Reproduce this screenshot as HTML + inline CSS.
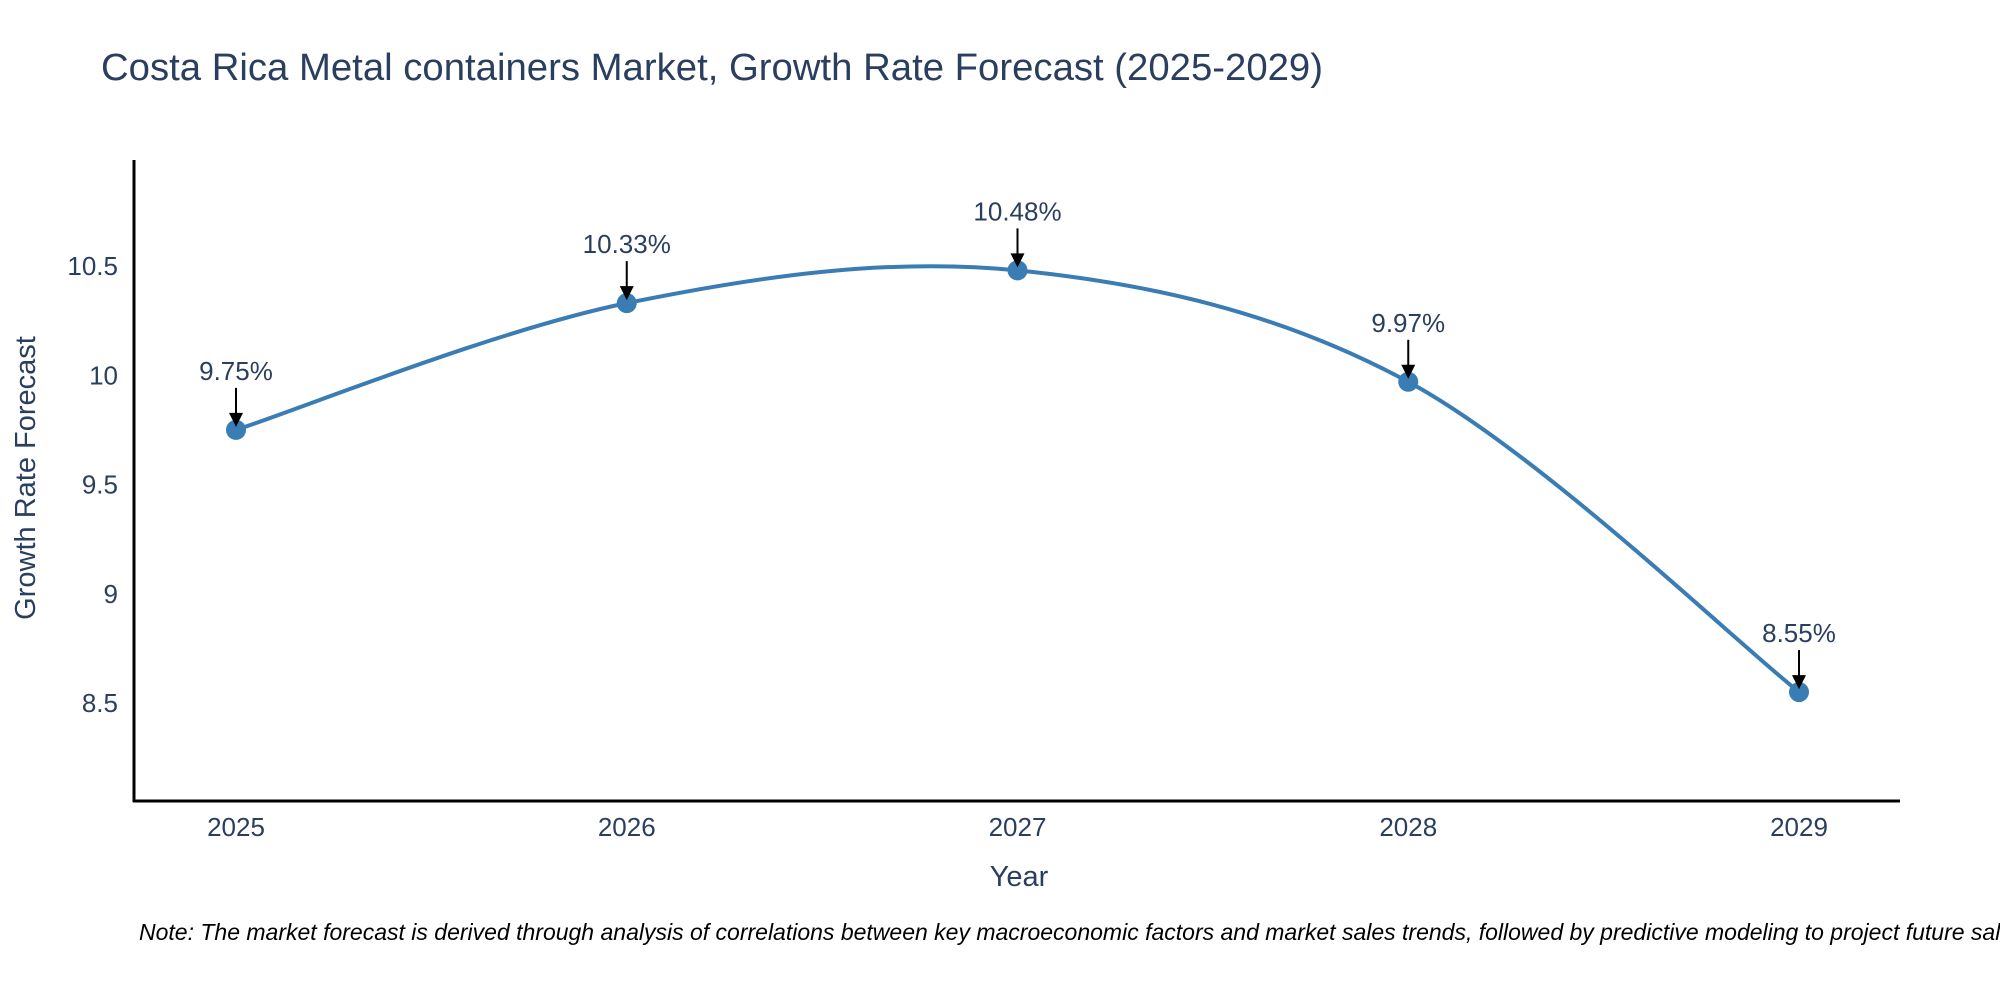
<!DOCTYPE html>
<html><head><meta charset="utf-8"><style>
html,body{margin:0;padding:0;background:#fff}
svg{display:block;font-family:"Liberation Sans",sans-serif}
</style></head><body>
<svg id="chart" width="2000" height="1000" viewBox="0 0 2000 1000" xmlns="http://www.w3.org/2000/svg">
<text x="101" y="80" font-size="38" fill="#2a3f5f" textLength="1222" lengthAdjust="spacingAndGlyphs">Costa Rica Metal containers Market, Growth Rate Forecast (2025-2029)</text>
<g id="grid"></g>
<line x1="134" y1="160" x2="134" y2="802" stroke="#000" stroke-width="3"/>
<line x1="133" y1="801" x2="1900" y2="801" stroke="#000" stroke-width="3"/>
<text transform="translate(35,478) rotate(-90)" text-anchor="middle" font-size="29" fill="#2a3f5f">Growth Rate Forecast</text>
<text x="1019" y="886" text-anchor="middle" font-size="29" fill="#2a3f5f">Year</text>
<text x="139" y="940" font-size="23" font-style="italic" fill="#000">Note: The market forecast is derived through analysis of correlations between key macroeconomic factors and market sales trends, followed by predictive modeling to project future sales.</text>
</svg>
<script>
const years = ["2025","2026","2027","2028","2029"];
const values = [9.75, 10.33, 10.48, 9.97, 8.55];
const labels = ["9.75%","10.33%","10.48%","9.97%","8.55%"];
const yTicks = [8.5, 9, 9.5, 10, 10.5];
const yTickLabels = ["8.5","9","9.5","10","10.5"];

const NS="http://www.w3.org/2000/svg";
const g=document.getElementById('grid');
const x0=236, x1=1799;
function xs(i){return x0+(x1-x0)*i/(years.length-1);}
function ys(v){return 703-(v-8.5)*(703-266)/2;}
function mk(t,a,p){const e=document.createElementNS(NS,t);for(const k in a)e.setAttribute(k,a[k]);(p||g).appendChild(e);return e;}

yTicks.forEach((v,i)=>{
  const t=mk('text',{x:118,y:ys(v)+9,'text-anchor':'end','font-size':26,fill:'#2a3f5f'});
  
  
  t.textContent=yTickLabels[i];
});
years.forEach((y,i)=>{
  const t=mk('text',{x:xs(i),y:836,'text-anchor':'middle','font-size':26,fill:'#2a3f5f'});
  
  
  t.textContent=y;
});

const pts=values.map((v,i)=>[xs(i),ys(v)]);
let d='M'+pts[0][0]+','+pts[0][1];
const s=1/6;
for(let i=0;i<pts.length-1;i++){
  const p0=pts[Math.max(0,i-1)],p1=pts[i],p2=pts[i+1],p3=pts[Math.min(pts.length-1,i+2)];
  const c1=[p1[0]+(p2[0]-p0[0])*s,p1[1]+(p2[1]-p0[1])*s];
  const c2=[p2[0]-(p3[0]-p1[0])*s,p2[1]-(p3[1]-p1[1])*s];
  d+=` C${c1[0]},${c1[1]} ${c2[0]},${c2[1]} ${p2[0]},${p2[1]}`;
}
const line=mk('path',{d:d,fill:'none',stroke:'#3a7db5','stroke-width':4});



pts.forEach((p,i)=>{
  const c=mk('circle',{cx:p[0],cy:p[1],r:10,fill:'#3a7db5'});
  
  
  const a=mk('line',{x1:p[0],y1:p[1]-42,x2:p[0],y2:p[1]-16,stroke:'#000','stroke-width':2});
  
  
  const h=mk('path',{d:`M${p[0]-7},${p[1]-17} L${p[0]+7},${p[1]-17} L${p[0]},${p[1]-3} Z`,fill:'#000'});
  
  
  const t=mk('text',{x:p[0],y:p[1]-50,'text-anchor':'middle','font-size':26,fill:'#2a3f5f'});
  
  
  t.textContent=labels[i];
});
</script>
</body></html>
